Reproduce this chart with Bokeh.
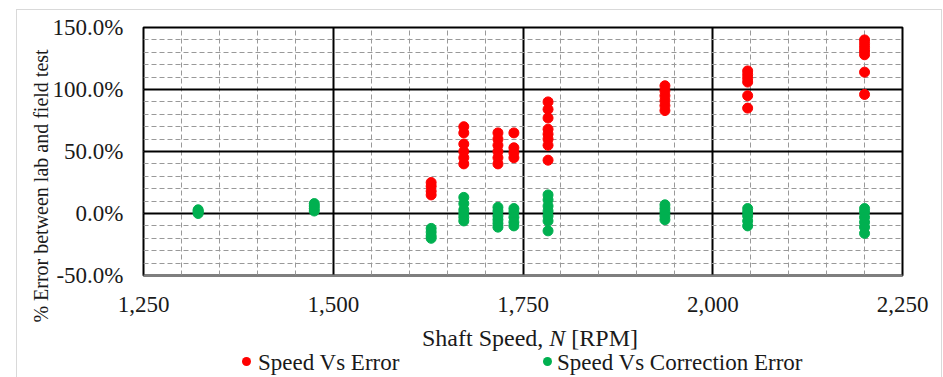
from bokeh.plotting import figure
from bokeh.layouts import column
from bokeh.models import (Range1d, SingleIntervalTicker, PrintfTickFormatter,
                          NumeralTickFormatter, Div)
from bokeh.embed import file_html
from bokeh.resources import INLINE

# ---- data (percent values) ----
red_speeds = [1629, 1672, 1717, 1738, 1783, 1937, 2046, 2200]
red_values = [
    [25, 22, 18, 15],
    [70, 65, 56, 50, 45, 40],
    [65, 60, 55, 50, 45, 40],
    [65, 53, 49, 45],
    [90, 84, 77, 68, 64, 60, 55, 43],
    [103, 99, 95, 91, 87, 83],
    [115, 112, 109, 106, 95, 85],
    [140, 137, 134, 131, 128, 114, 96],
]
green_speeds = [1322, 1475, 1629, 1672, 1717, 1738, 1783, 1937, 2046, 2200]
green_values = [
    [3, 2, 1, 0],
    [8, 6, 4, 2],
    [-12, -15, -18, -20],
    [13, 8, 3, 0, -3, -6],
    [5, 2, -2, -5, -8, -11],
    [4, 1, -3, -7, -10],
    [15, 11, 6, 2, -2, -6, -14],
    [7, 4, 1, -2, -5],
    [4, 1, -2, -6, -10],
    [4, 1, -3, -7, -11, -16],
]
series_names = ["Speed Vs Error", "Speed Vs Correction Error"]
x_title_parts = ["Shaft Speed, ", "N", " [RPM]"]
y_title = "% Error between lab and field test"

def flatten(speeds, vals):
    xs, ys = [], []
    for s, vv in zip(speeds, vals):
        for v in vv:
            xs.append(s)
            ys.append(v)
    return xs, ys

rx, ry = flatten(red_speeds, red_values)
gx, gy = flatten(green_speeds, green_values)

RED = "#FF0000"
GREEN = "#00B050"
FONT = "Liberation Serif"
TXT = "#1a1a1a"

W, H = 943, 377
FL, FR, FT, FB = 143, 902, 27, 275

p = figure(width=W, height=H, output_backend="svg", toolbar_location=None,
           x_range=Range1d(1250, 2250), y_range=Range1d(-50, 150),
           min_border_left=FL, min_border_right=W - FR,
           min_border_top=FT, min_border_bottom=H - FB)
p.background_fill_color = "white"
p.border_fill_color = "white"
p.outline_line_color = "black"
p.outline_line_width = 2

p.xaxis.ticker = SingleIntervalTicker(interval=250, num_minor_ticks=5)
p.yaxis.ticker = SingleIntervalTicker(interval=50, num_minor_ticks=5)
p.xaxis.formatter = NumeralTickFormatter(format="0,0")
p.yaxis.formatter = PrintfTickFormatter(format="%.1f%%")

for ax in (p.xaxis, p.yaxis):
    ax.major_tick_in = 0
    ax.major_tick_out = 0
    ax.minor_tick_in = 0
    ax.minor_tick_out = 0
    ax.major_label_text_font = FONT
    ax.major_label_text_font_size = "23px"
    ax.major_label_text_color = TXT
p.yaxis.axis_line_color = None
p.yaxis.major_label_standoff = 20
p.xaxis.axis_line_color = "#7f7f7f"
p.xaxis.axis_line_width = 2
p.xaxis.major_label_standoff = 21

for g in (p.xgrid, p.ygrid):
    g.grid_line_color = "black"
    g.grid_line_width = 2
    g.minor_grid_line_color = "#999999"
    g.minor_grid_line_dash = "5 3"
    g.minor_grid_line_width = 1

p.scatter(rx, ry, size=10, fill_color=RED, line_color=RED)
p.scatter(gx, gy, size=10, fill_color=GREEN, line_color=GREEN)

# ---- overlay texts (titles, legend, chart border) ----
def span(cx, cy, html, size, extra=""):
    return (f'<div style="position:absolute;left:{cx}px;top:{cy}px;'
            f'transform:translate(-50%,-50%){extra};white-space:nowrap;'
            f'font-size:{size}px;line-height:1;">{html}</div>')

def left_span(lx, cy, html, size):
    return (f'<div style="position:absolute;left:{lx}px;top:{cy}px;'
            f'transform:translateY(-50%);white-space:nowrap;'
            f'font-size:{size}px;line-height:1;">{html}</div>')

def dot(cx, cy, col, d=9):
    return (f'<div style="position:absolute;left:{cx - d / 2}px;top:{cy - d / 2}px;'
            f'width:{d}px;height:{d}px;border-radius:50%;background:{col};"></div>')

x_title_html = (f'{x_title_parts[0]}<i>{x_title_parts[1]}</i>{x_title_parts[2]}')
parts = [
    '<div style="position:absolute;left:11px;top:4px;width:926px;height:371px;'
    'border:1px solid #d9d9d9;box-sizing:border-box;"></div>',
    span(36, 181, y_title, 20, " rotate(-90deg)"),
    span(525, 333, x_title_html, 24),
    dot(241, 356, RED),
    left_span(253, 357, series_names[0], 23),
    dot(542, 356, GREEN),
    left_span(552, 357, series_names[1], 23),
]
overlay = Div(text=(f'<div style="position:relative;width:{W}px;height:{H}px;'
                    f'font-family:\'{FONT}\';color:{TXT};">' + "".join(parts) + '</div>'),
              width=W, height=H,
              styles={"position": "absolute", "left": "0px", "top": "0px",
                      "pointer-events": "none"})

layout = column(p, overlay)
open("out.html", "w").write(file_html(layout, INLINE))
